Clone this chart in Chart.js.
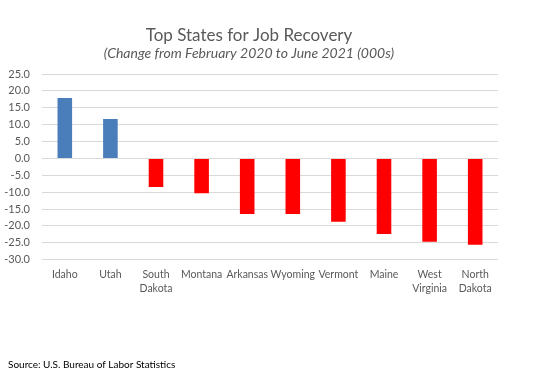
<!DOCTYPE html>
<html>
<head>
<meta charset="utf-8">
<script src="https://cdn.jsdelivr.net/npm/chart.js@4"></script>
<style>
  html, body { margin: 0; padding: 0; background: #fff; }
  #wrap { width: 547px; height: 375px; }
</style>
</head>
<body>
<div id="wrap"><canvas id="myChart" width="547" height="375"></canvas></div>
<script>
// data (thousands of jobs)
var states = ['Idaho', 'Utah', ['South', 'Dakota'], 'Montana', 'Arkansas', 'Wyoming', 'Vermont', 'Maine', ['West', 'Virginia'], ['North', 'Dakota']];
var change = [17.9, 11.7, -8.5, -10.3, -16.5, -16.5, -18.8, -22.4, -24.7, -25.6];
var yTicks = [25, -30, 5]; // max, min, step

var sourceNote = {
  id: 'sourceNote',
  afterDraw: function (chart) {
    var c = chart.ctx;
    c.save();
    c.font = '10px Lato';
    c.fillStyle = '#000';
    c.textBaseline = 'middle';
    c.fillText('Source: U.S. Bureau of Labor Statistics', 8, 365);
    c.restore();
  }
};

var ctx = document.getElementById('myChart').getContext('2d');
var chart = new Chart(ctx, {
  type: 'bar',
  data: {
    labels: states,
    datasets: [{
      data: change,
      backgroundColor: change.map(function (v) { return v >= 0 ? '#4a7ebb' : '#ff0000'; }),
      barPercentage: 0.32,
      categoryPercentage: 1
    }]
  },
  options: {
    responsive: false,
    animation: false,
    layout: { padding: { left: 0, right: 49, bottom: 79 } },
    plugins: {
      legend: { display: false },
      tooltip: { enabled: false },
      title: {
        display: true,
        text: 'Top States for Job Recovery',
        color: '#595959',
        font: { family: 'Lato', size: 17, weight: 'normal', lineHeight: 1 },
        padding: { top: 27, bottom: 2 }
      },
      subtitle: {
        display: true,
        text: '(Change from February 2020 to June 2021 (000s)',
        color: '#595959',
        font: { family: 'Lato', size: 14, style: 'italic', lineHeight: 1 },
        padding: { top: 0, bottom: 14 }
      }
    },
    scales: {
      x: {
        grid: { display: false },
        border: { display: false },
        ticks: {
          color: '#595959',
          font: { family: 'Lato', size: 10.5, lineHeight: 1.35 },
          padding: 0,
          maxRotation: 0,
          autoSkip: false
        }
      },
      y: {
        min: yTicks[1],
        max: yTicks[0],
        afterFit: function (s) { s.width = 42; },
        grid: { color: '#d9d9d9', drawTicks: false },
        border: { display: false },
        ticks: {
          stepSize: yTicks[2],
          autoSkip: false,
          color: '#595959',
          font: { family: 'Lato', size: 11 },
          padding: 12,
          callback: function (v) { return v.toFixed(1); }
        }
      }
    }
  },
  plugins: [sourceNote]
});
</script>
</body>
</html>
